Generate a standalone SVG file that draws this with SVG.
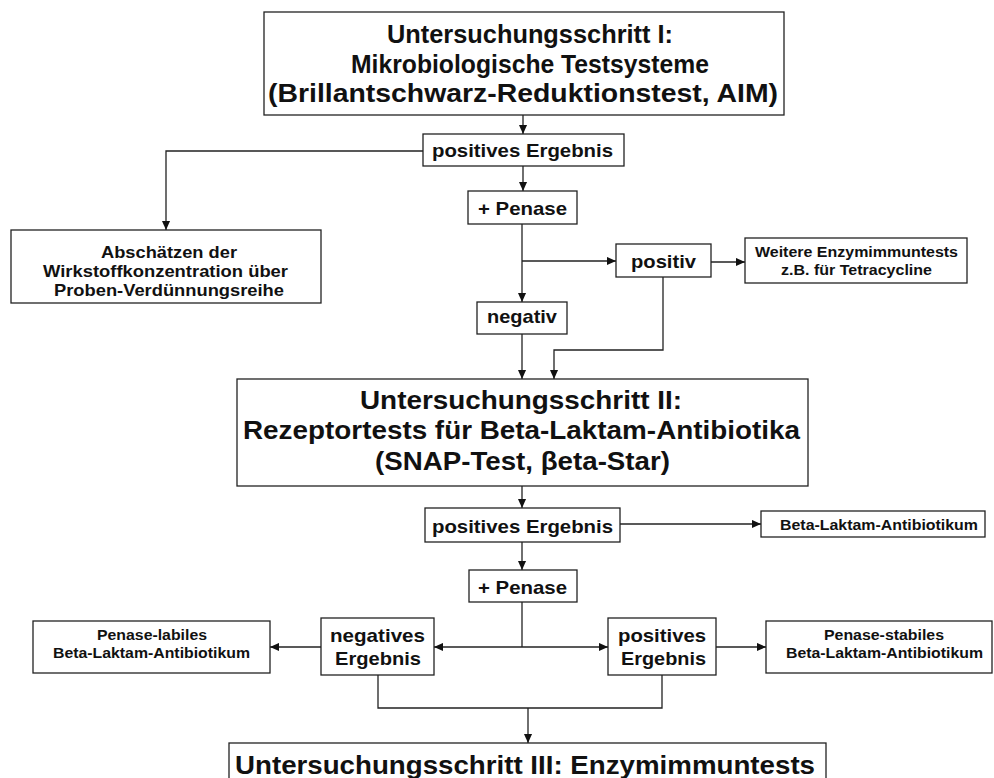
<svg xmlns="http://www.w3.org/2000/svg" width="994" height="778" viewBox="0 0 994 778">
<defs>
<marker id="ah" viewBox="0 0 10 10" refX="10" refY="5" markerWidth="9" markerHeight="9" markerUnits="userSpaceOnUse" orient="auto-start-reverse">
<path d="M0,0.5 L10,5 L0,9.5 z" fill="#111"/>
</marker>
<style>
.box{fill:#fff;stroke:#222;stroke-width:1.3}
.c{fill:none;stroke:#222;stroke-width:1.3}
.a{marker-end:url(#ah)}
text{font-family:"Liberation Sans",Arial,sans-serif;font-weight:bold;fill:#111}
.big{font-size:25.5px}
.med{font-size:18.5px}
.sm{font-size:16.5px}
.xs{font-size:14.5px}
</style>
</defs>
<rect width="994" height="778" fill="#fff"/>
<g id="connectors">
<path class="c a" d="M523,115 V134"/>
<path class="c a" d="M423,151 H166 V230"/>
<path class="c a" d="M523,166 V191"/>
<path class="c a" d="M522,224 V302"/>
<path class="c a" d="M522,261 H616"/>
<path class="c a" d="M711,262 H745"/>
<path class="c a" d="M663,277 V350 H554 V379"/>
<path class="c a" d="M522,334 V379"/>
<path class="c a" d="M522,486 V508"/>
<path class="c a" d="M620,524 H761"/>
<path class="c a" d="M522,542 V570"/>
<path class="c" d="M522,602 V647"/>
<path class="c a" d="M434,647 H608" marker-start="url(#ah)"/>
<path class="c a" d="M321,647 H270"/>
<path class="c a" d="M716,647 H766"/>
<path class="c" d="M378,675 V708 H662 V675"/>
<path class="c a" d="M528,708 V743"/>
</g>
<g id="n1"><rect class="box" x="264" y="12" width="520" height="103"/>
<text class="big" x="387" y="43" textLength="286" lengthAdjust="spacingAndGlyphs">Untersuchungsschritt I:</text>
<text class="big" x="351" y="73" textLength="358" lengthAdjust="spacingAndGlyphs">Mikrobiologische Testsysteme</text>
<text class="big" x="268" y="102" textLength="510" lengthAdjust="spacingAndGlyphs">(Brillantschwarz-Reduktionstest, AIM)</text></g>
<g id="n2"><rect class="box" x="423" y="134" width="201" height="32"/>
<text class="med" x="432" y="157" textLength="181" lengthAdjust="spacingAndGlyphs">positives Ergebnis</text></g>
<g id="n3"><rect class="box" x="468" y="191" width="109" height="33"/>
<text class="med" x="478" y="215" textLength="89" lengthAdjust="spacingAndGlyphs">+ Penase</text></g>
<g id="n4"><rect class="box" x="11" y="230" width="310" height="73"/>
<text class="sm" x="101" y="258" textLength="136" lengthAdjust="spacingAndGlyphs">Abschätzen der</text>
<text class="sm" x="43" y="277" textLength="245" lengthAdjust="spacingAndGlyphs">Wirkstoffkonzentration über</text>
<text class="sm" x="54" y="296" textLength="230" lengthAdjust="spacingAndGlyphs">Proben-Verdünnungsreihe</text></g>
<g id="n5"><rect class="box" x="616" y="244" width="95" height="33"/>
<text class="med" x="631" y="268" textLength="65" lengthAdjust="spacingAndGlyphs">positiv</text></g>
<g id="n6"><rect class="box" x="745" y="238" width="222" height="45"/>
<text class="xs" x="755" y="257" textLength="203" lengthAdjust="spacingAndGlyphs">Weitere Enzymimmuntests</text>
<text class="xs" x="781" y="275" textLength="151" lengthAdjust="spacingAndGlyphs">z.B. für Tetracycline</text></g>
<g id="n7"><rect class="box" x="477" y="302" width="90" height="32"/>
<text class="med" x="487" y="323" textLength="70" lengthAdjust="spacingAndGlyphs">negativ</text></g>
<g id="n8"><rect class="box" x="237" y="379" width="571" height="107"/>
<text class="big" x="360" y="409" textLength="322" lengthAdjust="spacingAndGlyphs">Untersuchungsschritt II:</text>
<text class="big" x="243" y="439" textLength="557" lengthAdjust="spacingAndGlyphs">Rezeptortests für Beta-Laktam-Antibiotika</text>
<text class="big" x="375" y="470" textLength="295" lengthAdjust="spacingAndGlyphs">(SNAP-Test, βeta-Star)</text></g>
<g id="n9"><rect class="box" x="425" y="508" width="195" height="34"/>
<text class="med" x="432" y="533" textLength="181" lengthAdjust="spacingAndGlyphs">positives Ergebnis</text></g>
<g id="n10"><rect class="box" x="761" y="511" width="224" height="26"/>
<text class="xs" x="780" y="530" textLength="198" lengthAdjust="spacingAndGlyphs">Beta-Laktam-Antibiotikum</text></g>
<g id="n11"><rect class="box" x="469" y="570" width="108" height="32"/>
<text class="med" x="478" y="594" textLength="89" lengthAdjust="spacingAndGlyphs">+ Penase</text></g>
<g id="n12"><rect class="box" x="321" y="618" width="113" height="57"/>
<text class="med" x="330" y="642" textLength="95" lengthAdjust="spacingAndGlyphs">negatives</text>
<text class="med" x="335" y="665" textLength="86" lengthAdjust="spacingAndGlyphs">Ergebnis</text></g>
<g id="n13"><rect class="box" x="608" y="618" width="108" height="57"/>
<text class="med" x="618" y="642" textLength="88" lengthAdjust="spacingAndGlyphs">positives</text>
<text class="med" x="621" y="665" textLength="85" lengthAdjust="spacingAndGlyphs">Ergebnis</text></g>
<g id="n14"><rect class="box" x="33" y="621" width="237" height="52"/>
<text class="xs" x="97" y="640" textLength="110" lengthAdjust="spacingAndGlyphs">Penase-labiles</text>
<text class="xs" x="53" y="658" textLength="197" lengthAdjust="spacingAndGlyphs">Beta-Laktam-Antibiotikum</text></g>
<g id="n15"><rect class="box" x="766" y="621" width="226" height="52"/>
<text class="xs" x="824" y="640" textLength="120" lengthAdjust="spacingAndGlyphs">Penase-stabiles</text>
<text class="xs" x="786" y="658" textLength="197" lengthAdjust="spacingAndGlyphs">Beta-Laktam-Antibiotikum</text></g>
<g id="n16"><rect class="box" x="229" y="743" width="597" height="60"/>
<text class="big" x="235" y="774" textLength="580" lengthAdjust="spacingAndGlyphs">Untersuchungsschritt III: Enzymimmuntests</text></g>
</svg>
